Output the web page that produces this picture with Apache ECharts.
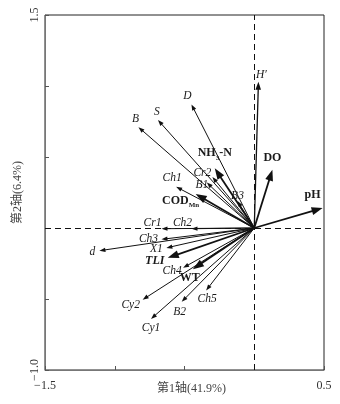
<!DOCTYPE html>
<html>
<head>
<meta charset="utf-8">
<script src="https://cdn.jsdelivr.net/npm/echarts@6/dist/echarts.min.js"></script>
<style>
  html, body { margin: 0; padding: 0; background: #fff; }
  #chart { width: 340px; height: 404px; }
</style>
</head>
<body>
<div id="chart"></div>
<script>
// RDA biplot: axis 1 vs axis 2 loadings
const xTicks = [-1.5, -1.0, -0.5, 0, 0.5];
const yTicks = [-1.0, -0.5, 0, 0.5, 1.0, 1.5];
const xTitle = '第1轴(41.9%)';
const yTitle = '第2轴(6.4%)';

// phytoplankton taxa (thin arrows)
const taxaNames = ['D', 'S', 'B', 'Ch1', 'Cr2', 'B1', 'B3', 'Cr1', 'Ch2', 'Ch3', 'd', 'X1', 'Ch4', 'Cy2', 'B2', 'Ch5', 'Cy1'];
const taxaAxis1 = [-0.45, -0.69, -0.83, -0.56, -0.30, -0.34, -0.12, -0.665, -0.45, -0.665, -1.11, -0.63, -0.51, -0.80, -0.52, -0.345, -0.74];
const taxaAxis2 = [0.87, 0.76, 0.71, 0.29, 0.36, 0.32, 0.19, -0.005, -0.005, -0.08, -0.16, -0.14, -0.28, -0.505, -0.52, -0.44, -0.64];

// diversity index
const indexNames = ["H'"];
const indexAxis1 = [0.03];
const indexAxis2 = [1.03];

// environmental factors (bold arrows)
const envNames = ['pH', 'DO', 'NH3-N', 'CODMn', 'TLI', 'WT'];
const envAxis1 = [0.49, 0.13, -0.283, -0.42, -0.62, -0.44];
const envAxis2 = [0.14, 0.41, 0.42, 0.24, -0.21, -0.29];

// label placement relative to each arrow tip (px)
const labelOffset = {
  'D': [-4, -8], 'S': [-1, -8], 'B': [-3, -8], 'Ch1': [-4, -9], 'Cr2': [-10, -4],
  'B1': [-5, 2], 'B3': [0, -5], 'Cr1': [-9, -6], 'Ch2': [-9, -6], 'Ch3': [-13, 0],
  'd': [-7, 1], 'X1': [-10, 1], 'Ch4': [-11, 3], 'Cy2': [-12, 5], 'B2': [-2, 10],
  'Ch5': [1, 9], 'Cy1': [0, 9], "H'": [3, -7],
  'pH': [-10, -13], 'DO': [0, -12], 'NH3-N': [0, -15], 'CODMn': [-15, 7],
  'TLI': [-13, 3], 'WT': [-3, 9]
};

// displayed text for labels with subscripts / primes
const labelText = {
  'NH3-N': 'NH{s|3}-N',
  'CODMn': 'COD{s|Mn}',
  "H'": 'H\u2032'
};

// labels set in bold italic
const boldItalic = { 'TLI': true };

const SERIF = '"Liberation Serif", "DejaVu Serif", serif';
const CJK = '"Liberation Serif", "Noto Sans CJK SC", sans-serif';

function arrowSeries(name, names, xs, ys, st) {
  return {
    type: 'custom',
    name: name,
    coordinateSystem: 'cartesian2d',
    data: names.map((n, i) => [xs[i], ys[i]]),
    encode: { x: 0, y: 1 },
    clip: false,
    z: st.z,
    renderItem: function (params, api) {
      const i = params.dataIndex;
      const o = api.coord([0, 0]);
      const p = api.coord([xs[i], ys[i]]);
      const dx = p[0] - o[0], dy = p[1] - o[1];
      const len = Math.hypot(dx, dy);
      const ux = dx / len, uy = dy / len;
      const L = st.headLen, W = st.headHalf;
      const bx = p[0] - ux * L, by = p[1] - uy * L;
      const key = names[i];
      const off = labelOffset[key] || [0, -8];
      return {
        type: 'group',
        children: [
          {
            type: 'line',
            shape: { x1: o[0], y1: o[1], x2: bx + ux * 1, y2: by + uy * 1 },
            style: { stroke: st.color, lineWidth: st.width }
          },
          {
            type: 'polygon',
            shape: { points: [[p[0], p[1]], [bx - uy * W, by + ux * W], [bx + uy * W, by - ux * W]] },
            style: { fill: st.color }
          },
          {
            type: 'text',
            x: p[0] + off[0],
            y: p[1] + off[1],
            style: {
              text: labelText[key] || key,
              fontFamily: SERIF,
              fontSize: st.fontSize,
              fontWeight: st.fontWeight,
              fontStyle: boldItalic[key] ? 'italic' : st.fontStyle,
              fill: '#1a1a1a',
              align: 'center',
              verticalAlign: 'middle',
              rich: {
                s: {
                  fontFamily: SERIF,
                  fontSize: 7,
                  fontWeight: 'bold',
                  fontStyle: 'normal',
                  fill: '#1a1a1a',
                  padding: [9, 0, 0, 0]
                }
              }
            }
          }
        ]
      };
    }
  };
}

const chart = echarts.init(document.getElementById('chart'), null, { renderer: 'canvas' });

chart.setOption({
  animation: false,
  backgroundColor: '#fff',
  grid: {
    left: 45, right: 16, top: 15, bottom: 34,
    outerBoundsMode: 'none',
    containLabel: false,
    show: true, borderColor: '#222', borderWidth: 1
  },
  xAxis: {
    type: 'value',
    min: xTicks[0], max: xTicks[xTicks.length - 1], interval: 0.5,
    name: xTitle,
    nameLocation: 'middle',
    nameGap: 13,
    nameMoveOverlap: false,
    nameTextStyle: { fontFamily: CJK, fontSize: 12, color: '#444', padding: [0, 0, 0, 14] },
    axisLine: { onZero: false, lineStyle: { color: '#777', width: 1 } },
    axisTick: { inside: true, length: 4, lineStyle: { color: '#555' } },
    axisLabel: {
      margin: 10, fontFamily: SERIF, fontSize: 12, color: '#333',
      formatter: v => (v === xTicks[0] || v === xTicks[xTicks.length - 1]) ? String(v).replace('-', '\u2212') : ''
    },
    splitLine: { show: false }
  },
  yAxis: {
    type: 'value',
    min: yTicks[0], max: yTicks[yTicks.length - 1], interval: 0.5,
    name: yTitle,
    nameLocation: 'middle',
    nameGap: 21,
    nameMoveOverlap: false,
    nameRotate: 90,
    nameTextStyle: { fontFamily: CJK, fontSize: 12, color: '#444' },
    axisLine: { onZero: false, lineStyle: { color: '#777', width: 1 } },
    axisTick: { inside: true, length: 4, lineStyle: { color: '#555' } },
    axisLabel: {
      margin: 4, rotate: 90, fontFamily: SERIF, fontSize: 12, color: '#333',
      formatter: v => (v === yTicks[0] || v === yTicks[yTicks.length - 1]) ? (v === -1 ? '\u22121.0' : v.toFixed(1)) : ''
    },
    splitLine: { show: false }
  },
  series: [
    {
      type: 'line',
      data: [],
      silent: true,
      markLine: {
        silent: true,
        symbol: 'none',
        label: { show: false },
        lineStyle: { color: '#111', width: 1, type: [6, 4] },
        data: [{ xAxis: 0 }, { yAxis: 0 }]
      }
    },
    arrowSeries('taxa', taxaNames, taxaAxis1, taxaAxis2,
      { color: '#111', width: 1, headLen: 6, headHalf: 2.2, fontSize: 11.5, fontWeight: 'normal', fontStyle: 'italic', z: 3 }),
    arrowSeries('index', indexNames, indexAxis1, indexAxis2,
      { color: '#111', width: 1.3, headLen: 8, headHalf: 2.8, fontSize: 11.5, fontWeight: 'normal', fontStyle: 'italic', z: 4 }),
    arrowSeries('env', envNames, envAxis1, envAxis2,
      { color: '#111', width: 1.8, headLen: 11, headHalf: 4, fontSize: 12, fontWeight: 'bold', fontStyle: 'normal', z: 5 })
  ]
});
</script>
</body>
</html>
